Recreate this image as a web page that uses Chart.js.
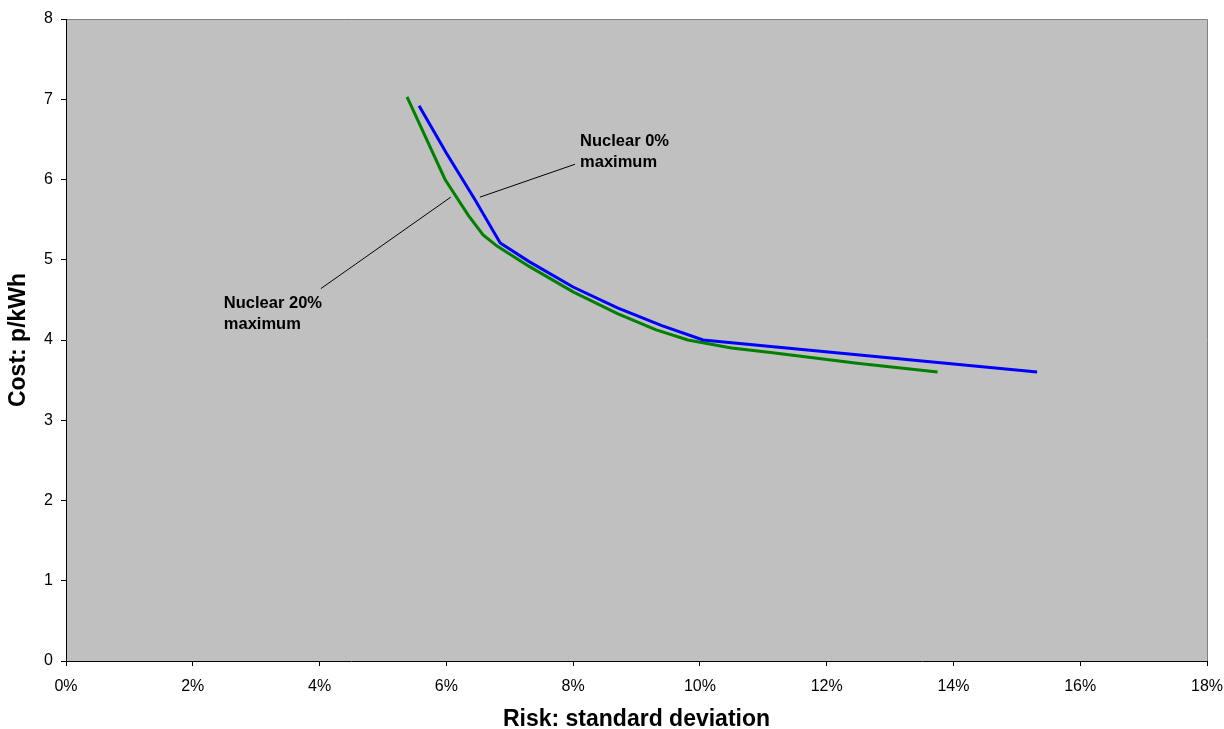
<!DOCTYPE html>
<html>
<head>
<meta charset="utf-8">
<script src="https://cdn.jsdelivr.net/npm/chart.js@4/dist/chart.umd.min.js"></script>
<style>
  html, body { margin: 0; padding: 0; background: #fff; }
  #wrap { width: 1224px; height: 729px; position: relative; }
</style>
</head>
<body>
<div id="wrap"><canvas id="c" width="1224" height="729"></canvas></div>
<script>
// Series: risk (standard deviation, %) vs cost (p/kWh)
const nuclear0Risk  = [5.57, 6.0, 6.45, 6.85, 7.3, 8.0, 8.7, 9.4, 10.05, 15.32];
const nuclear0Cost  = [6.92, 6.33, 5.75, 5.21, 4.98, 4.66, 4.40, 4.18, 4.0, 3.60];
const nuclear20Risk = [5.38, 5.98, 6.35, 6.58, 6.8, 7.3, 8.0, 8.7, 9.3, 9.81, 10.5, 11.15, 12.48, 13.75];
const nuclear20Cost = [7.03, 6.0, 5.55, 5.31, 5.17, 4.92, 4.60, 4.33, 4.13, 4.0, 3.9, 3.84, 3.71, 3.60];

const xTicks = [0, 2, 4, 6, 8, 10, 12, 14, 16, 18];
const yTicks = [0, 1, 2, 3, 4, 5, 6, 7, 8];

const xTitle = 'Risk: standard deviation';
const yTitle = 'Cost: p/kWh';

// Annotations (in data units)
const labels = [
  { text: ['Nuclear 0%', 'maximum'], x: 8.11, y: 6.48, from: [6.53, 5.78], to: [8.03, 6.19] },
  { text: ['Nuclear 20%', 'maximum'], x: 2.49, y: 4.46, from: [6.07, 5.78], to: [4.02, 4.64] }
];

function pts(xs, ys) { return xs.map((x, i) => ({ x: x, y: ys[i] })); }

const FONT = '"Liberation Sans", Arial, sans-serif';

const bgPlugin = {
  id: 'bg',
  beforeDraw(chart) {
    const { ctx, chartArea: a } = chart;
    ctx.save();
    ctx.fillStyle = '#C0C0C0';
    ctx.fillRect(a.left, a.top, a.right - a.left, a.bottom - a.top);
    ctx.strokeStyle = '#808080';
    ctx.lineWidth = 1;
    ctx.beginPath();
    ctx.moveTo(a.left, a.top + 0.5);
    ctx.lineTo(a.right + 0.5, a.top + 0.5);
    ctx.lineTo(a.right + 0.5, a.bottom);
    ctx.stroke();
    ctx.restore();
  },
  afterDatasetsDraw(chart) {
    const { ctx } = chart;
    const xs = chart.scales.x, ys = chart.scales.y;
    ctx.save();
    ctx.strokeStyle = '#000';
    ctx.lineWidth = 1;
    ctx.fillStyle = '#000';
    ctx.font = 'bold 16.5px ' + FONT;
    ctx.textBaseline = 'middle';
    ctx.textAlign = 'left';
    labels.forEach(l => {
      ctx.beginPath();
      ctx.moveTo(xs.getPixelForValue(l.from[0]), ys.getPixelForValue(l.from[1]));
      ctx.lineTo(xs.getPixelForValue(l.to[0]), ys.getPixelForValue(l.to[1]));
      ctx.stroke();
      const px = xs.getPixelForValue(l.x);
      const py = ys.getPixelForValue(l.y);
      l.text.forEach((t, i) => ctx.fillText(t, px, py + i * 21));
    });
    ctx.restore();
  }
};

new Chart(document.getElementById('c'), {
  type: 'scatter',
  data: {
    datasets: [
      { label: 'Nuclear 0% maximum', data: pts(nuclear0Risk, nuclear0Cost), showLine: true,
        borderColor: '#0000FF', backgroundColor: '#0000FF', borderWidth: 3, pointRadius: 0, tension: 0 },
      { label: 'Nuclear 20% maximum', data: pts(nuclear20Risk, nuclear20Cost), showLine: true,
        borderColor: '#008000', backgroundColor: '#008000', borderWidth: 3, pointRadius: 0, tension: 0 }
    ]
  },
  options: {
    responsive: false,
    animation: false,
    layout: { padding: { left: 0, right: 17, top: 19, bottom: 0 } },
    plugins: { legend: { display: false }, tooltip: { enabled: false } },
    scales: {
      x: {
        type: 'linear', min: 0, max: 18,
        afterBuildTicks: s => { s.ticks = xTicks.map(v => ({ value: v })); },
        afterFit: s => { s.height = 68; s.paddingLeft = 0; s.paddingRight = 0; },
        ticks: { color: '#000', font: { family: FONT, size: 16 }, padding: 11, maxRotation: 0,
                 callback: v => v + '%' },
        grid: { drawOnChartArea: false, drawTicks: true, tickLength: 5, color: '#000' },
        border: { display: true, color: '#000', width: 1 },
        title: { display: true, text: xTitle, color: '#000',
                 font: { family: FONT, size: 23, weight: 'bold', lineHeight: 1 }, padding: { top: 0, bottom: -2 } }
      },
      y: {
        type: 'linear', min: 0, max: 8,
        afterBuildTicks: s => { s.ticks = yTicks.map(v => ({ value: v })); },
        afterFit: s => { s.width = 66; s.paddingTop = 0; s.paddingBottom = 0; },
        ticks: { color: '#000', font: { family: FONT, size: 16 }, padding: 8 },
        grid: { drawOnChartArea: false, drawTicks: true, tickLength: 5, color: '#000' },
        border: { display: true, color: '#000', width: 1 },
        title: { display: true, text: yTitle, color: '#000',
                 font: { family: FONT, size: 23, weight: 'bold', lineHeight: 1 }, padding: { top: 7, bottom: 0 } }
      }
    }
  },
  plugins: [bgPlugin]
});
</script>
</body>
</html>
